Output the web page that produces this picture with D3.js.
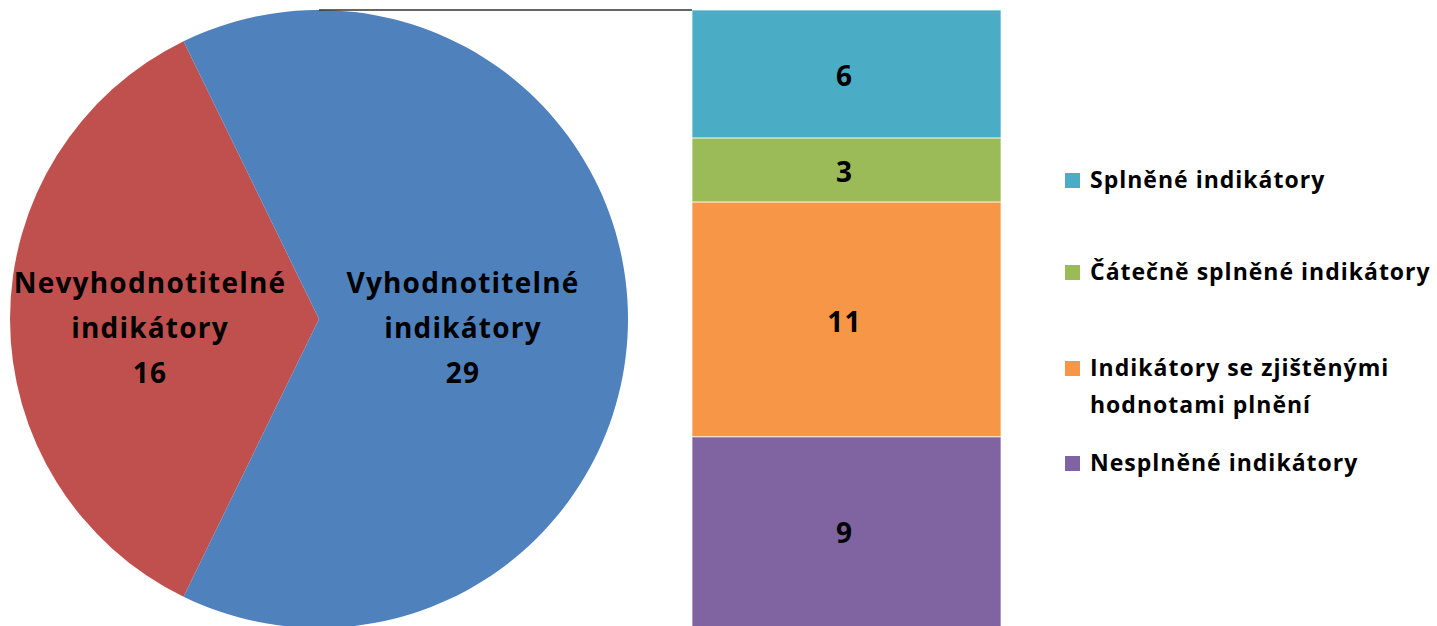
<!DOCTYPE html>
<html>
<head>
<meta charset="utf-8">
<script src="https://cdn.jsdelivr.net/npm/d3@7"></script>
<style>
  body { margin: 0; background: #fff; overflow: hidden; }
  text { font-family: "Open Sans", Lato, sans-serif; font-weight: bold; fill: #000; }
</style>
</head>
<body>
<div id="chart"></div>
<script>
var pieNames = ['Nevyhodnotitelné indikátory', 'Vyhodnotitelné indikátory'];
var pieValues = [16, 29];
var pieColors = ['#C0504D', '#4F81BD'];

var barNames = ['Splněné indikátory', 'Čátečně splněné indikátory', 'Indikátory se zjištěnými hodnotami plnění', 'Nesplněné indikátory'];
var barValues = [6, 3, 11, 9];
var barColors = ['#4BACC6', '#9BBB59', '#F79646', '#8064A2'];
var legendLines = [['Splněné indikátory'], ['Čátečně splněné indikátory'], ['Indikátory se zjištěnými', 'hodnotami plnění'], ['Nesplněné indikátory']];

var width = 1437, height = 626;
var svg = d3.select('#chart').append('svg')
  .attr('width', width)
  .attr('height', height);

// pie
var cx = 319, cy = 319, r = 309;
var red = pieValues[0] / d3.sum(pieValues) * 2 * Math.PI;
var pie = d3.pie().sort(null).value(function (d) { return d; })
  .startAngle(1.5 * Math.PI - red / 2)
  .endAngle(3.5 * Math.PI - red / 2);
var arc = d3.arc().innerRadius(0).outerRadius(r);

var g = svg.append('g').attr('transform', 'translate(' + cx + ',' + cy + ')');
g.selectAll('path')
  .data(pie(pieValues))
  .enter()
  .append('path')
  .attr('d', arc)
  .attr('fill', function (d, i) { return pieColors[i]; });

// pie labels
var labelPos = [150 - cx, 463 - cx];
g.selectAll('text.pl')
  .data(pieValues)
  .enter()
  .append('text')
  .attr('class', 'pl')
  .attr('text-anchor', 'middle')
  .attr('font-size', 28)
  .attr('letter-spacing', 1.2)
  .each(function (d, i) {
    var words = pieNames[i].split(' ').concat([String(d)]);
    var t = d3.select(this);
    words.forEach(function (w, j) {
      t.append('tspan')
       .attr('x', labelPos[i])
       .attr('y', 283 - cy + 10 + j * 45)
       .text(w);
    });
  });

// bar
var y = d3.scaleLinear().domain([0, d3.sum(barValues)]).range([10, 629]);
var x0 = 692, x1 = 1001;
var cum = d3.cumsum(barValues);
var segs = barValues.map(function (v, i) { return { v: v, start: cum[i] - v, end: cum[i] }; });

svg.selectAll('rect.seg')
  .data(segs)
  .enter()
  .append('rect')
  .attr('class', 'seg')
  .attr('x', x0)
  .attr('width', x1 - x0)
  .attr('y', function (d) { return y(d.start); })
  .attr('height', function (d) { return y(d.end) - y(d.start); })
  .attr('fill', function (d, i) { return barColors[i]; })
  .attr('stroke', '#fff')
  .attr('stroke-width', 0.7);

svg.selectAll('text.bl')
  .data(segs)
  .enter()
  .append('text')
  .attr('class', 'bl')
  .attr('text-anchor', 'middle')
  .attr('font-size', 28)
  .attr('letter-spacing', 1.2)
  .attr('x', (x0 + x1) / 2 - 2)
  .attr('y', function (d) { return (y(d.start) + Math.min(y(d.end), height)) / 2 + 12; })
  .text(function (d) { return d.v; });

// connector lines
svg.append('line')
  .attr('x1', cx).attr('y1', 10).attr('x2', x0).attr('y2', 10)
  .attr('stroke', '#333').attr('stroke-width', 1.3);
svg.append('line')
  .attr('x1', cx).attr('y1', cy + r).attr('x2', x0).attr('y2', y(d3.sum(barValues)))
  .attr('stroke', '#333').attr('stroke-width', 1.3);

// legend
var legendY = [180, 272, 368, 463];
var lg = svg.selectAll('g.leg')
  .data(legendLines)
  .enter()
  .append('g')
  .attr('class', 'leg')
  .attr('transform', function (d, i) { return 'translate(1065,' + legendY[i] + ')'; });
lg.append('rect')
  .attr('x', 0).attr('y', -7).attr('width', 15).attr('height', 15)
  .attr('fill', function (d, i) { return barColors[i]; });
lg.append('text')
  .attr('font-size', 23)
  .attr('letter-spacing', 1.0)
  .each(function (d) {
    var t = d3.select(this);
    d.forEach(function (line, j) {
      t.append('tspan').attr('x', 25).attr('y', 8 + j * 37).text(line);
    });
  });
</script>
</body>
</html>
